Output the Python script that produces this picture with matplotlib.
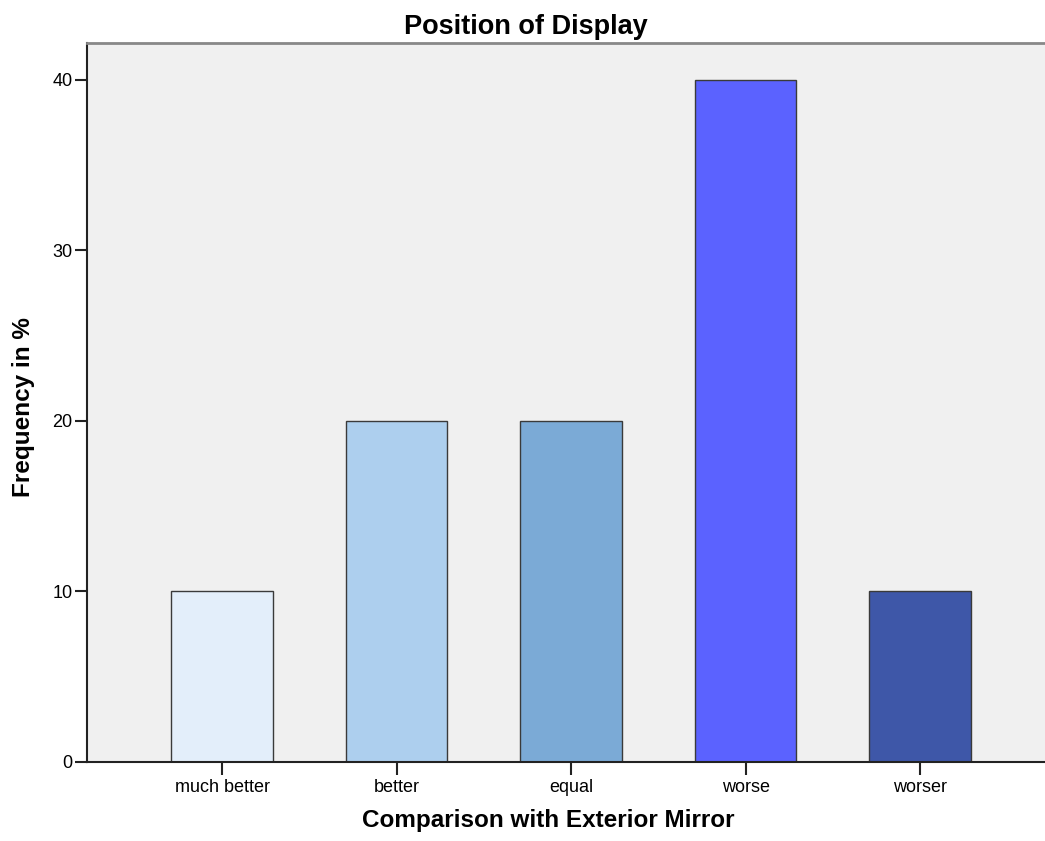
import matplotlib
matplotlib.use('Agg')
import matplotlib.pyplot as plt

plt.rcParams['font.family'] = ['Liberation Sans', 'DejaVu Sans']

# data
categories = ['much better', 'better', 'equal', 'worse', 'worser']
frequency = [10, 20, 20, 40, 10]
bar_colors = ['#E3EEFA', '#ADCFEE', '#7BAAD6', '#5B62FF', '#3E57A8']
y_ticks = [0, 10, 20, 30, 40]

W, H = 1045, 841
fig = plt.figure(figsize=(W / 100, H / 100), dpi=100)
ax = fig.add_axes([87 / W, 79 / H, 1 - 87 / W, (762 - 43) / H])
ax.set_facecolor('#F0F0F0')

x = range(len(categories))
ax.bar(x, frequency, width=0.58, color=bar_colors, edgecolor='#3a3a3a', linewidth=1.0, zorder=2)

ax.set_xlim(-0.774, 4.716)
ax.set_ylim(0, 42.17)
ax.set_xticks(list(x))
ax.set_xticklabels(categories, fontsize=13)
ax.set_yticks(y_ticks)
ax.set_yticklabels([str(v) for v in y_ticks], fontsize=13)
ax.tick_params(axis='both', direction='out', length=9, width=1.5, color='#222222')
ax.tick_params(axis='x', pad=3)
ax.tick_params(axis='y', pad=1.5)

ax.spines['right'].set_visible(False)
ax.spines['top'].set_color('#888888')
ax.spines['top'].set_linewidth(2)
ax.spines['left'].set_color('#222222')
ax.spines['left'].set_linewidth(1.5)
ax.spines['bottom'].set_color('#222222')
ax.spines['bottom'].set_linewidth(1.5)

# titles placed in figure pixels as measured on the reference
fig.text(526 / W, 1 - 34 / H, 'Position of Display', fontsize=19.5, fontweight='bold',
         ha='center', va='baseline')
fig.text(548 / W, 1 - 827 / H, 'Comparison with Exterior Mirror', fontsize=17.5,
         fontweight='bold', ha='center', va='baseline')
fig.text(24 / W, 1 - 407 / H, 'Frequency in %', fontsize=17.5, fontweight='bold',
         rotation=90, ha='center', va='center')

fig.savefig('out.png', dpi=100)
